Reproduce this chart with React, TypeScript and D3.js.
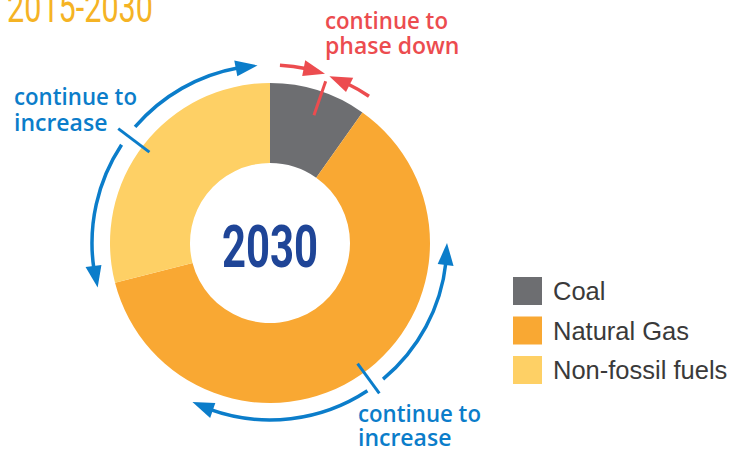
import React from "react";
import * as d3 from "d3";

const categories = ["Coal", "Natural Gas", "Non-fossil fuels"];
const shares = [9.8, 61.2, 29.0];
const colors = ["#6d6e71", "#f9a833", "#fed065"];
const titleText = "2015-2030";
const centerLabel = "2030";

type Arrow = { from: number; to: number; r: number; color: string };
type Tick = { at: number; r0: number; r1: number; color: string };

const BLUE = "#0b7dca";
const RED = "#ec4c4f";

const arrows: Arrow[] = [
  { from: 310.7, to: 356, r: 178, color: BLUE },
  { from: 303.5, to: 255.5, r: 178, color: BLUE },
  { from: 3.2, to: 18, r: 178, color: RED },
  { from: 34, to: 19.6, r: 177, color: RED },
  { from: 140.3, to: 90, r: 177, color: BLUE },
  { from: 146.6, to: 206, r: 177, color: BLUE },
];
const ticks: Tick[] = [
  { at: 307, r0: 151, r1: 190, color: BLUE },
  { at: 19, r0: 135, r1: 171, color: RED },
  { at: 144, r0: 149, r1: 186, color: BLUE },
];

const W = 738;
const H = 452;
const cx = 270;
const cy = 243;
const R = 160;
const r0 = 80;

const rad = (deg: number) => (deg * Math.PI) / 180;
const pt = (aDeg: number, r: number): [number, number] => [
  cx + r * Math.sin(rad(aDeg)),
  cy - r * Math.cos(rad(aDeg)),
];

function arrowPaths(a: Arrow) {
  const L = 22;
  const hw = 8;
  const s = Math.sign(a.to - a.from);
  const baseDeg = a.to - (s * (L / a.r) * 180) / Math.PI;
  const lineEnd = baseDeg + s * 1;
  const p = d3.path();
  const [sx, sy] = pt(a.from, a.r);
  p.moveTo(sx, sy);
  p.arc(cx, cy, a.r, rad(a.from) - Math.PI / 2, rad(lineEnd) - Math.PI / 2, s < 0);
  const tip = pt(a.to, a.r);
  const b1 = pt(baseDeg, a.r - hw);
  const b2 = pt(baseDeg, a.r + hw);
  const head = `M${tip[0]},${tip[1]}L${b1[0]},${b1[1]}L${b2[0]},${b2[1]}Z`;
  return { line: p.toString(), head };
}

export default function App() {
  const pie = d3
    .pie<number>()
    .sort(null)
    .value((d) => d)
    .startAngle(0)
    .endAngle(2 * Math.PI);
  const arcGen = d3.arc<d3.PieArcDatum<number>>().innerRadius(r0).outerRadius(R);
  const slices = pie(shares);

  const labelFont = "'Open Sans', 'Noto Sans', sans-serif";

  return (
    <svg width={W} height={H} style={{ position: "absolute", left: 0, top: 0 }}>
      <rect width={W} height={H} fill="#ffffff" />
      <text
        x={7}
        y={22}
        fill="#f5b324"
        fontFamily="Roboto, sans-serif"
        fontSize={42}
        textLength={146}
        lengthAdjust="spacingAndGlyphs"
      >
        {titleText}
      </text>

      <g transform={`translate(${cx},${cy})`}>
        {slices.map((s, i) => (
          <path key={i} d={arcGen(s) || ""} fill={colors[i]} />
        ))}
      </g>

      <text
        x={cx}
        y={267}
        textAnchor="middle"
        fill="#1f4597"
        fontFamily="Roboto, sans-serif"
        fontWeight={700}
        fontSize={59}
        textLength={96}
        lengthAdjust="spacingAndGlyphs"
      >
        {centerLabel}
      </text>

      {arrows.map((a, i) => {
        const { line, head } = arrowPaths(a);
        return (
          <g key={i}>
            <path d={line} fill="none" stroke={a.color} strokeWidth={3.5} />
            <path d={head} fill={a.color} />
          </g>
        );
      })}
      {ticks.map((t, i) => {
        const [x1, y1] = pt(t.at, t.r0);
        const [x2, y2] = pt(t.at, t.r1);
        return <line key={i} x1={x1} y1={y1} x2={x2} y2={y2} stroke={t.color} strokeWidth={3} />;
      })}

      <g fontFamily={labelFont} fontSize={23} fontWeight={600} fill={BLUE}>
        <text x={14} y={105} textLength={123} lengthAdjust="spacingAndGlyphs">continue to</text>
        <text x={14} y={131}>increase</text>
        <text x={358} y={422} textLength={123} lengthAdjust="spacingAndGlyphs">continue to</text>
        <text x={358} y={446}>increase</text>
      </g>
      <g fontFamily={labelFont} fontSize={23} fontWeight={600} fill={RED}>
        <text x={325} y={29} textLength={123} lengthAdjust="spacingAndGlyphs">continue to</text>
        <text x={325} y={54}>phase down</text>
      </g>

      <g fontFamily="'Liberation Sans', Arial, sans-serif" fontSize={25.5} fill="#3a3a3a">
        {categories.map((c, i) => (
          <g key={c} transform={`translate(513,${277 + i * 39.5})`}>
            <rect width={29} height={28} fill={colors[i]} />
            <text x={40} y={23}>{c}</text>
          </g>
        ))}
      </g>
    </svg>
  );
}
